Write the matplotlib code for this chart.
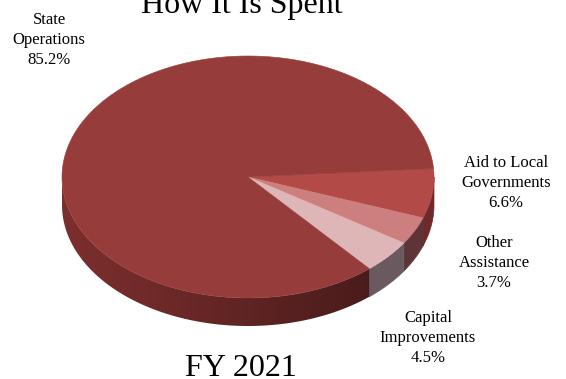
import numpy as np
import matplotlib
matplotlib.use("Agg")
import matplotlib.pyplot as plt
from matplotlib.patches import Polygon
from matplotlib.colors import to_rgb

# Spending shares, FY 2021
categories = ["Aid to Local\nGovernments", "Other\nAssistance", "Capital\nImprovements", "State\nOperations"]
shares = [6.6, 3.7, 4.5, 85.2]
top_colors = ["#b24a47", "#cd7f7f", "#dfb6b7", "#963d3b"]
side_colors = ["#6e2a2a", "#5e3438", "#6a5a5f", "#7a2e2d"]

W, H = 566, 379
fig = plt.figure(figsize=(W / 100, H / 100), dpi=100)
ax = fig.add_axes([0, 0, 1, 1])
ax.set_xlim(0, W)
ax.set_ylim(H, 0)
ax.axis("off")

# pie geometry in pixel space
cx, cy = 248, 177
rx, ry = 186, 121
depth = 28
start = 4.0  # degrees, slices run clockwise


def pt(theta_deg, dy=0.0):
    t = np.radians(theta_deg)
    return cx + rx * np.cos(t), cy - ry * np.sin(t) + dy


def darken(c, f):
    r, g, b = to_rgb(c)
    return (r * f, g * f, b * f)


# angular extents of each slice
angles = []
a = start
for s in shares:
    span = s / 100 * 360
    angles.append((a, a - span))
    a -= span

# side walls (only the front half, angles between -180 and 0)
for (a0, a1), col in zip(angles, side_colors):
    lo, hi = max(min(a0, a1), -180), min(max(a0, a1), 0)
    if lo >= hi:
        continue
    th = np.linspace(hi, lo, max(4, int(hi - lo) * 2))
    verts = [pt(t) for t in th] + [pt(t, depth) for t in th[::-1]]
    if col == side_colors[3]:
        # long wall: shaded from a lighter left edge to a darker front-right
        wall = Polygon(verts, closed=True, facecolor="none", edgecolor="none")
        ax.add_patch(wall)
        xs = np.linspace(0, 1, 256)
        f = 1.0 - 0.40 * np.clip((xs - 0.04) / 0.96, 0, 1) ** 1.1
        base = np.array(to_rgb(col))
        img = (base[None, None, :] * f[None, :, None]).repeat(2, axis=0)
        xmin = min(v[0] for v in verts) - 1
        xmax = max(v[0] for v in verts) + 1
        ymin = min(v[1] for v in verts) - 1
        ymax = max(v[1] for v in verts) + 1
        im = ax.imshow(img, extent=(xmin, xmax, ymax, ymin), aspect="auto",
                       interpolation="bilinear", zorder=1)
        im.set_clip_path(wall)
    else:
        ax.add_patch(Polygon(verts, closed=True, facecolor=col, edgecolor=col,
                             lw=0.5, zorder=1))

# top faces
for (a0, a1), col in zip(angles, top_colors):
    th = np.linspace(a0, a1, max(4, int(abs(a0 - a1))))
    verts = [(cx, cy)] + [pt(t) for t in th]
    ax.add_patch(Polygon(verts, closed=True, facecolor=col, edgecolor=col,
                         lw=0.4, zorder=2))

ax.set_xlim(0, W)
ax.set_ylim(H, 0)

serif = ["Liberation Serif", "DejaVu Serif"]

ax.text(242, 13, "How It Is Spent", ha="center", va="baseline", fontsize=23, family=serif)
ax.text(241, 376, "FY 2021", ha="center", va="baseline", fontsize=23, family=serif)

label_pos = [(506, 183), (494, 263), (428, 338), (49, 40)]
for name, val, (x, y) in zip(categories, shares, label_pos):
    ax.text(x, y, f"{name}\n{val:.1f}%", ha="center", va="center", fontsize=12,
            family=serif, linespacing=1.35)

fig.savefig("out.png", dpi=100)
